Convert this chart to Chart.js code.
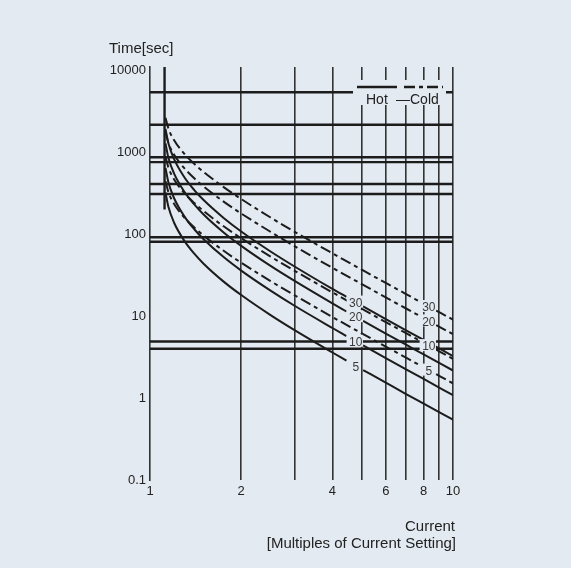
<!DOCTYPE html>
<html>
<head>
<meta charset="utf-8">
<script src="https://cdn.jsdelivr.net/npm/chart.js@4.4.1/dist/chart.umd.min.js"></script>
<style>
  html, body { margin: 0; padding: 0; background: #e3eaf1; }
  canvas { display: block; }
</style>
</head>
<body>
<canvas id="tripChart" width="571" height="568"></canvas>
<script>
const BG = '#e3eaf1';
const INK = '#1c1c1c';
const COLD_DASH = [11, 4, 4, 4];

// current, multiples of setting (null value = gap where the class label sits)
const hotCurrents = [1.125, 1.15, 1.2, 1.3, 1.4, 1.5, 1.75, 2, 2.5, 3, 4, 4.45, 4.75, 5.05, 6, 7, 8, 10];
const coldCurrents = [1.125, 1.15, 1.2, 1.3, 1.4, 1.5, 1.75, 2, 2.5, 3, 4, 5, 6, 7, 7.75, 8.3, 8.8, 10];

// trip time [sec], hot state (solid)
const hot5 = [323, 216, 139, 82.4, 57.9, 44.0, 26.4, 18.1, 10.3, 6.75, 3.60, 2.87, null, 2.20, 1.54, 1.12, 0.856, 0.545];
const hot10 = [644, 431, 277, 164, 115, 87.6, 52.6, 36.0, 20.5, 13.4, 7.17, 5.72, null, 4.39, 3.07, 2.24, 1.71, 1.085];
const hot20 = [1287, 861, 554, 328, 231, 175, 105, 72.0, 41.0, 26.9, 14.3, 11.4, null, 8.77, 6.14, 4.48, 3.41, 2.17];
const hot30 = [1934, 1294, 831, 493, 346, 263, 158, 108, 61.6, 40.4, 21.5, 17.2, null, 13.2, 9.22, 6.72, 5.12, 3.26];

// trip time [sec], cold state (dash-dot)
const cold5 = [443, 327, 236, 159, 121, 96.7, 62.8, 44.9, 26.8, 18.0, 9.77, 6.16, 4.25, 3.11, 2.53, null, 1.96, 1.51];
const cold10 = [882, 652, 470, 317, 241, 193, 125, 89.4, 53.4, 35.8, 19.5, 12.3, 8.46, 6.19, 5.04, null, 3.90, 3.01];
const cold20 = [1763, 1303, 940, 635, 481, 385, 250, 179, 107, 71.5, 38.9, 24.6, 16.9, 12.4, 10.1, null, 7.79, 6.02];
const cold30 = [2648, 1958, 1413, 953, 723, 579, 376, 269, 160, 107, 58.5, 36.9, 25.4, 18.6, 15.1, null, 11.7, 9.05];

// heavy horizontal rules across the sheet [sec]
const ruleLevels = [5400, 2170, 870, 760, 410, 310, 92, 81, 4.9, 4.0];

// vertical part shared by all curves
const asymptote = 1.117;
const asymptoteTimes = [11000, 200];

const xTicks = [1, 2, 3, 4, 5, 6, 7, 8, 9, 10];
const xLabelled = [1, 2, 4, 6, 8, 10];
const yTicks = [0.1, 1, 10, 100, 1000, 10000];

function pts(xs, ys) {
  return xs.map((x, i) => ({ x: x, y: ys[i] }));
}

const datasets = [];

ruleLevels.forEach((lvl) => {
  datasets.push({
    data: [{ x: 1, y: lvl }, { x: 10, y: lvl }],
    borderColor: INK,
    borderWidth: 2.4,
  });
});

datasets.push({
  data: asymptoteTimes.map((t) => ({ x: asymptote, y: t })),
  borderColor: INK,
  borderWidth: 2.4,
});

[[cold5, '5'], [cold10, '10'], [cold20, '20'], [cold30, '30']].forEach(([vals, lab]) => {
  datasets.push({
    data: pts(coldCurrents, vals),
    borderColor: INK,
    borderWidth: 2,
    borderDash: COLD_DASH,
    cubicInterpolationMode: 'monotone',
    curveLabel: lab,
  });
});

[[hot5, '5'], [hot10, '10'], [hot20, '20'], [hot30, '30']].forEach(([vals, lab]) => {
  datasets.push({
    data: pts(hotCurrents, vals),
    borderColor: INK,
    borderWidth: 2,
    cubicInterpolationMode: 'monotone',
    curveLabel: lab,
  });
});

// class numbers written in the gaps of each curve
const curveLabels = {
  id: 'curveLabels',
  afterDatasetsDraw(chart) {
    const ctx = chart.ctx;
    ctx.save();
    ctx.font = '12px "Liberation Sans", Arial, sans-serif';
    ctx.textAlign = 'center';
    ctx.textBaseline = 'middle';
    chart.data.datasets.forEach((ds, di) => {
      if (!ds.curveLabel) return;
      const meta = chart.getDatasetMeta(di);
      const gap = ds.data.findIndex((p) => p.y === null);
      const a = meta.data[gap - 1];
      const b = meta.data[gap + 1];
      const x = (a.x + b.x) / 2;
      const y = (a.y + b.y) / 2;
      const w = ctx.measureText(ds.curveLabel).width + 3;
      ctx.fillStyle = BG;
      ctx.fillRect(x - w / 2, y - 6, w, 12);
      ctx.fillStyle = '#3a3a3a';
      ctx.fillText(ds.curveLabel, x + 1, y + 2);
    });
    ctx.restore();
  },
};

// Hot / Cold key, axis captions
const sheetText = {
  id: 'sheetText',
  afterDraw(chart) {
    const ctx = chart.ctx;
    const area = chart.chartArea;
    ctx.save();

    // key box at the top right
    const kx = area.right - 100;
    const ky = area.top + 13;
    ctx.fillStyle = BG;
    ctx.fillRect(kx, ky, 93, 25);
    ctx.strokeStyle = INK;
    ctx.lineWidth = 2.4;
    ctx.beginPath();
    ctx.moveTo(kx + 4, ky + 7);
    ctx.lineTo(kx + 44, ky + 7);
    ctx.stroke();
    ctx.setLineDash(COLD_DASH);
    ctx.beginPath();
    ctx.moveTo(kx + 51, ky + 7);
    ctx.lineTo(kx + 90, ky + 7);
    ctx.stroke();
    ctx.setLineDash([]);
    ctx.fillStyle = '#222';
    ctx.font = '14px "Liberation Sans", Arial, sans-serif';
    ctx.textBaseline = 'alphabetic';
    ctx.textAlign = 'left';
    ctx.fillText('Hot', kx + 13, ky + 24);
    ctx.fillText('\u2014Cold', kx + 43, ky + 24);

    ctx.font = '15px "Liberation Sans", Arial, sans-serif';
    ctx.fillText('Time[sec]', 109, 53);
    ctx.textAlign = 'right';
    ctx.fillText('Current', 455, 531);
    ctx.fillText('[Multiples of Current Setting]', 456, 548);
    ctx.restore();
  },
};

new Chart(document.getElementById('tripChart'), {
  type: 'line',
  data: { datasets: datasets },
  options: {
    responsive: false,
    animation: false,
    events: [],
    spanGaps: false,
    elements: { point: { radius: 0 }, line: { fill: false } },
    layout: { padding: { top: 67, right: 118, bottom: 0, left: 0 } },
    plugins: { legend: { display: false }, tooltip: { enabled: false } },
    scales: {
      x: {
        type: 'logarithmic',
        min: 1,
        max: 10,
        afterBuildTicks: (axis) => {
          axis.ticks = xTicks.map((v) => ({ value: v }));
        },
        afterFit: (s) => {
          s.height = 88;
        },
        ticks: {
          autoSkip: false,
          maxRotation: 0,
          padding: 4,
          color: '#222',
          font: { family: '"Liberation Sans", Arial, sans-serif', size: 13 },
          callback: (v) => (xLabelled.includes(v) ? String(v) : ''),
        },
        grid: {
          drawTicks: false,
          color: (c) => (c.tick && c.tick.value === 1 ? 'rgba(0,0,0,0)' : '#333'),
          lineWidth: 1.6,
        },
        border: { display: false },
      },
      y: {
        type: 'logarithmic',
        min: 0.1,
        max: 11000,
        afterBuildTicks: (axis) => {
          axis.ticks = yTicks.map((v) => ({ value: v }));
        },
        afterFit: (s) => {
          s.width = 150;
        },
        ticks: {
          padding: 4,
          color: '#222',
          font: { family: '"Liberation Sans", Arial, sans-serif', size: 13 },
          callback: (v) => String(v),
        },
        grid: { display: false, drawTicks: false },
        border: { display: true, color: '#333', width: 1.6 },
      },
    },
  },
  plugins: [curveLabels, sheetText],
});
</script>
</body>
</html>
